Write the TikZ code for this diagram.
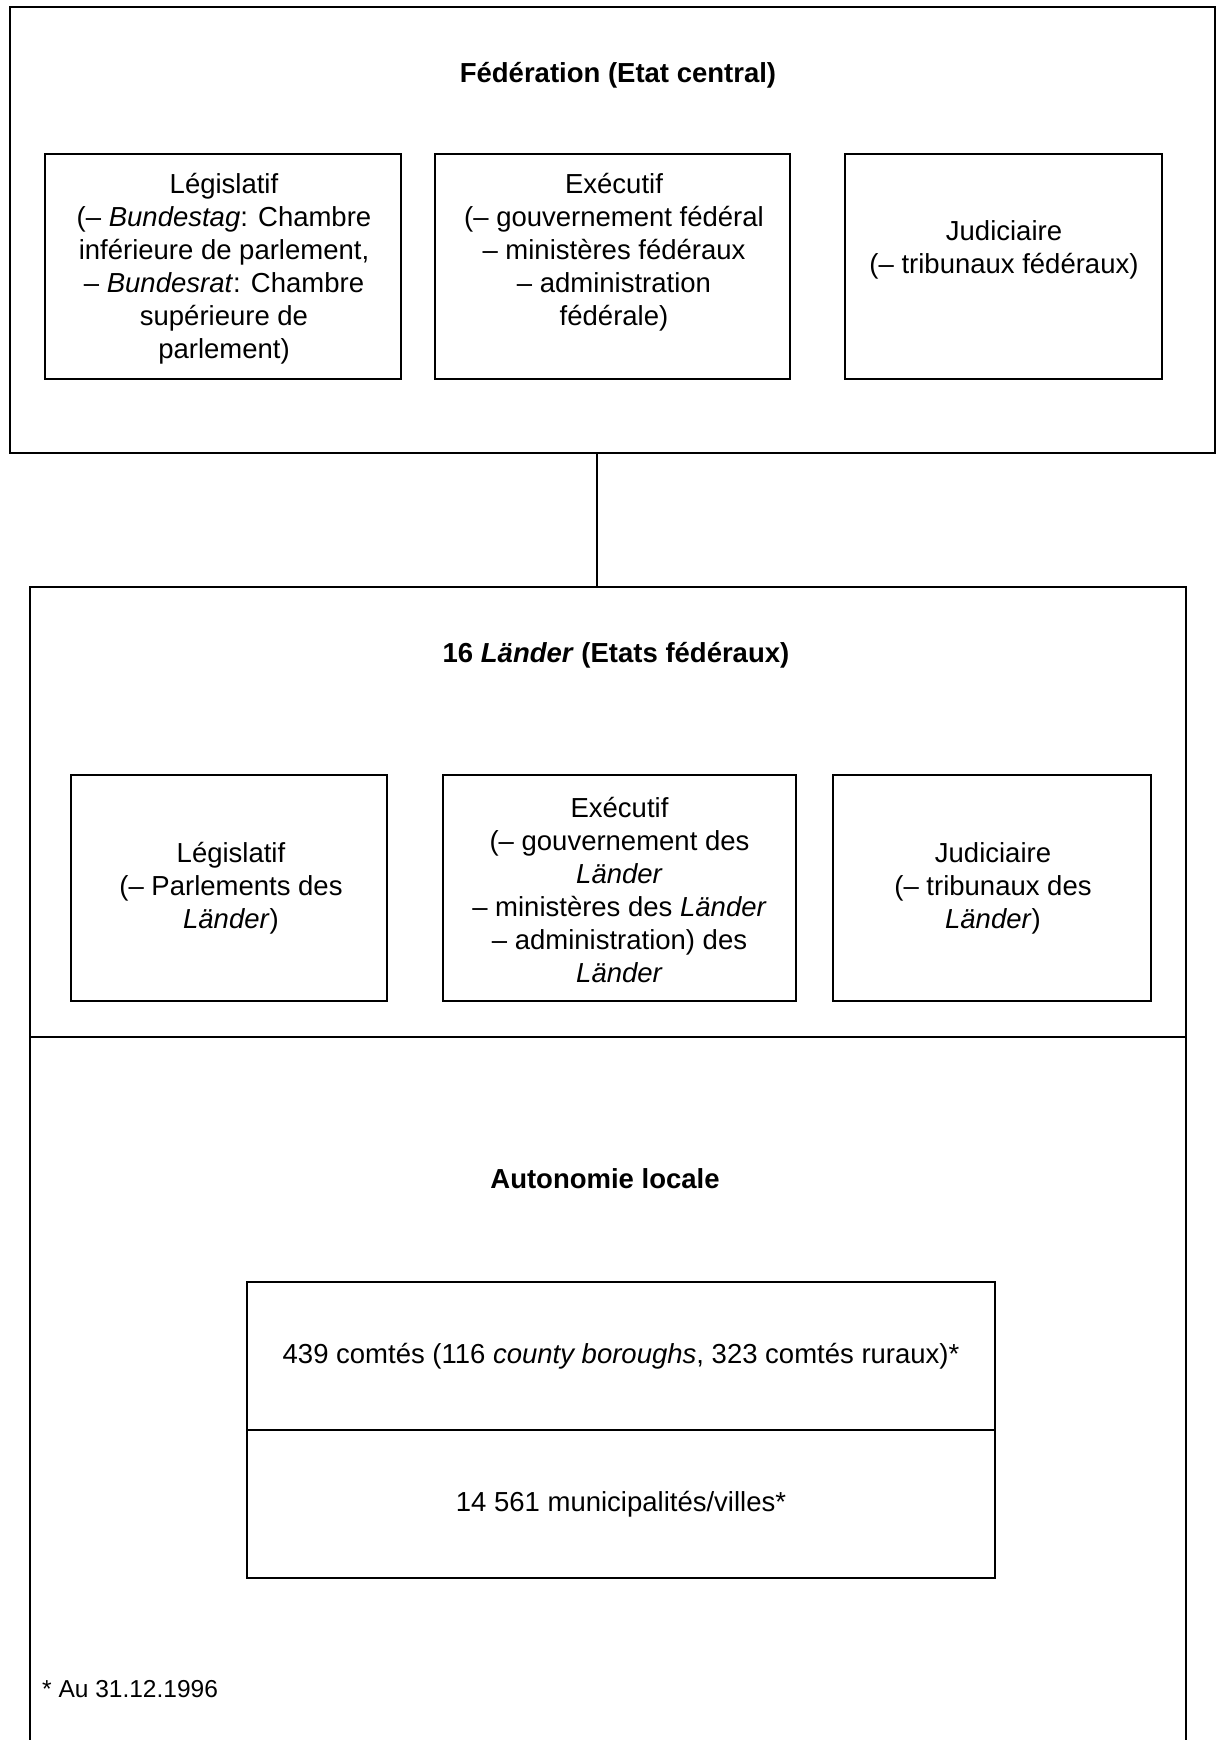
\documentclass[tikz,border=0pt]{standalone}
\usepackage{fontspec}
\setmainfont{Liberation Sans}
\begin{document}
\begin{tikzpicture}[x=1pt,y=-1pt,
  frame/.style={draw, line width=2.5pt, rectangle, inner sep=0pt, outer sep=0pt},
  line/.style={line width=2.5pt},
  txt/.style={align=center, inner sep=0pt, font=\fontsize{27.5}{33}\selectfont},
  ttl/.style={align=center, inner sep=0pt, font=\fontsize{27.5}{33}\selectfont\bfseries},
  note/.style={inner sep=0pt, font=\fontsize{24.5}{29}\selectfont}]
\useasboundingbox (0,0) rectangle (1218,1740);
\fill[white] (0,0) rectangle (1218,1740);

% Federation
\node[frame, minimum width=1205, minimum height=446] (fed) at (612.5,230) {};
\node[ttl] (fedT) at (618,75) {Fédération (Etat central)};
\node[frame, minimum width=356, minimum height=225] (fl) at (223,266.5) {};
\node[frame, minimum width=355, minimum height=225] (fe) at (612.5,266.5) {};
\node[frame, minimum width=317, minimum height=225] (fj) at (1003.5,266.5) {};
\node[txt] (flT) at (224,268.5) {Législatif\\(– \textit{Bundestag}: Chambre\\inférieure de parlement,\\– \textit{Bundesrat}: Chambre\\supérieure de\\parlement)};
\node[txt] (feT) at (614,252) {Exécutif\\(– gouvernement fédéral\\– ministères fédéraux\\– administration\\fédérale)};
\node[txt] (fjT) at (1004,250) {Judiciaire\\(– tribunaux fédéraux)};

% Laender
\node[frame, minimum width=1156, minimum height=450] (land) at (608,812) {};
\node[ttl] (landT) at (616,655) {16 \textit{Länder} (Etats fédéraux)};
\node[frame, minimum width=316, minimum height=226] (ll) at (229,888) {};
\node[frame, minimum width=353, minimum height=226] (le) at (619.5,888) {};
\node[frame, minimum width=318, minimum height=226] (lj) at (992,888) {};
\node[txt] (llT) at (231,888) {Législatif\\(– Parlements des\\\textit{Länder})};
\node[txt] (leT) at (619.5,890) {Exécutif\\(– gouvernement des\\\textit{Länder}\\– ministères des \textit{Länder}\\– administration) des\\\textit{Länder}};
\node[txt] (ljT) at (993,888) {Judiciaire\\(– tribunaux des\\\textit{Länder})};

% connector
\coordinate (cx) at (597,0);
\draw[line] (fed.south -| cx) -- (land.north -| cx);

% Local autonomy (open at the bottom)
\coordinate (bl) at (30,1750);
\coordinate (br) at (1186,1750);
\draw[line] (land.south west) -- (bl);
\draw[line] (land.south east) -- (br);
\node[ttl] (locT) at (605,1179) {Autonomie locale};
\node[frame, txt, minimum width=748, minimum height=148] (cb) at (621,1356) {439 comtés (116 \textit{county boroughs}, 323 comtés ruraux)*};
\node[frame, txt, minimum width=748, minimum height=148] (mb) at (621,1504) {14 561 municipalités/villes*};

\node[note, anchor=base west] (fn) at (42,1697) {* Au 31.12.1996};
\end{tikzpicture}
\end{document}
